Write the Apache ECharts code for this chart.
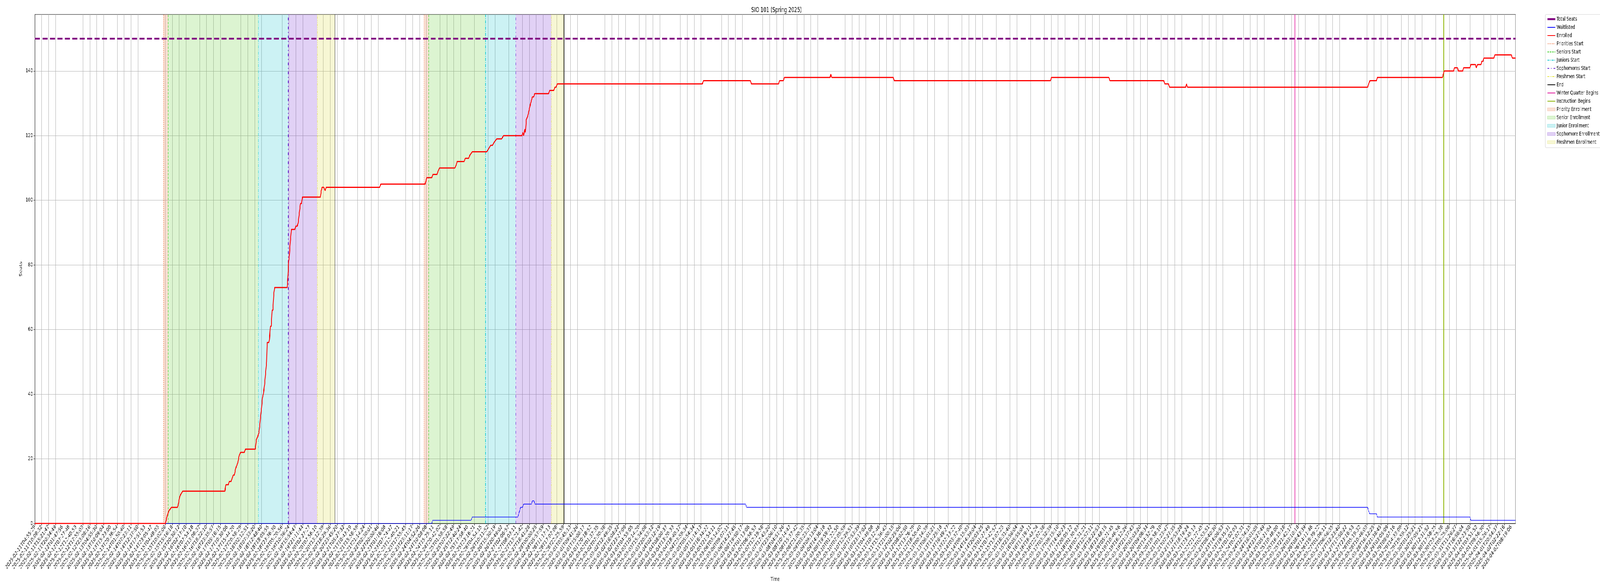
<!DOCTYPE html>
<html>
<head>
<meta charset="utf-8">
<title>SIO 101 (Spring 2025)</title>
<script src="https://cdn.jsdelivr.net/npm/echarts@6.0.0/dist/echarts.min.js"></script>
<style>
  html, body { margin: 0; padding: 0; background: #fff; overflow: hidden; }
  #chart { width: 6000px; height: 1500px; transform-origin: 0 0; }
</style>
</head>
<body>
<div id="chart"></div>
<script>
// x positions below are in "tick index" units: tick i sits at x = i
const tickLabels = [
  '2025-02-11T04:55:29', '2025-02-11T10:08:32', '2025-02-11T15:21:47', '2025-02-11T20:34:49',
  '2025-02-12T01:47:56', '2025-02-12T07:27:48', '2025-02-12T12:40:53', '2025-02-12T17:55:03',
  '2025-02-12T23:08:16', '2025-02-13T04:55:30', '2025-02-13T10:09:04', '2025-02-13T15:23:00',
  '2025-02-13T20:36:54', '2025-02-14T01:50:40', '2025-02-14T07:23:11', '2025-02-14T12:37:50',
  '2025-02-14T17:51:53', '2025-02-14T23:05:47', '2025-02-15T04:48:03', '2025-02-15T10:02:08',
  '2025-02-15T15:16:18', '2025-02-15T20:30:12', '2025-02-16T02:17:10', '2025-02-16T07:54:18',
  '2025-02-16T13:08:37', '2025-02-16T18:22:10', '2025-02-16T23:35:57', '2025-02-17T05:16:15',
  '2025-02-17T10:30:06', '2025-02-17T15:44:20', '2025-02-17T20:58:29', '2025-02-18T02:12:51',
  '2025-02-18T07:33:20', '2025-02-18T12:48:40', '2025-02-18T18:05:55', '2025-02-18T23:36:30',
  '2025-02-19T05:20:56', '2025-02-19T10:36:24', '2025-02-19T15:54:47', '2025-02-19T21:11:44',
  '2025-02-20T02:27:27', '2025-02-20T07:56:10', '2025-02-20T13:12:39', '2025-02-20T18:29:36',
  '2025-02-20T23:45:20', '2025-02-21T05:27:32', '2025-02-21T10:43:19', '2025-02-21T15:58:59',
  '2025-02-21T21:14:24', '2025-02-22T02:30:01', '2025-02-22T20:00:46', '2025-02-23T01:16:08',
  '2025-02-23T07:24:47', '2025-02-23T12:40:21', '2025-02-23T17:55:45', '2025-02-23T23:11:17',
  '2025-02-24T04:52:26', '2025-02-24T10:08:08', '2025-02-24T15:25:11', '2025-02-24T20:42:02',
  '2025-02-25T01:58:58', '2025-02-25T07:22:49', '2025-02-25T12:40:24', '2025-02-25T17:58:40',
  '2025-02-25T23:16:21', '2025-02-26T04:54:15', '2025-02-26T10:11:52', '2025-02-26T15:30:19',
  '2025-02-26T20:49:02', '2025-02-27T02:06:57', '2025-02-27T08:03:11', '2025-02-27T13:21:42',
  '2025-02-27T18:41:28', '2025-02-28T00:00:25', '2025-02-28T05:57:59', '2025-02-28T11:17:13',
  '2025-02-28T17:07:08', '2025-02-28T22:25:59', '2025-03-01T03:45:13', '2025-03-01T09:41:26',
  '2025-03-01T15:00:17', '2025-03-01T20:18:52', '2025-03-02T01:37:35', '2025-03-02T07:30:38',
  '2025-03-02T12:49:35', '2025-03-02T18:08:22', '2025-03-02T23:27:09', '2025-03-03T04:55:05',
  '2025-03-03T10:14:20', '2025-03-03T15:34:08', '2025-03-03T20:53:12', '2025-03-04T02:12:19',
  '2025-03-04T08:00:37', '2025-03-04T13:20:33', '2025-03-04T18:40:17', '2025-03-04T23:59:34',
  '2025-03-05T05:54:34', '2025-03-05T11:14:13', '2025-03-05T16:34:22', '2025-03-05T21:54:11',
  '2025-03-06T03:14:02', '2025-03-06T09:07:11', '2025-03-06T14:27:45', '2025-03-06T19:50:17',
  '2025-03-07T01:13:06', '2025-03-07T06:56:53', '2025-03-07T12:19:58', '2025-03-07T17:43:20',
  '2025-03-07T23:06:10', '2025-03-08T04:51:26', '2025-03-08T10:14:47', '2025-03-08T15:37:42',
  '2025-03-08T21:00:35', '2025-03-09T03:23:37', '2025-03-09T09:13:04', '2025-03-09T14:36:18',
  '2025-03-09T19:59:32', '2025-03-10T01:22:50', '2025-03-10T07:05:59', '2025-03-10T12:29:51',
  '2025-03-10T17:53:39', '2025-03-10T23:17:02', '2025-03-11T04:49:08', '2025-03-11T10:12:46',
  '2025-03-11T15:36:43', '2025-03-11T21:00:15', '2025-03-12T02:25:06', '2025-03-12T08:02:50',
  '2025-03-12T13:26:29', '2025-03-12T18:50:40', '2025-03-13T00:14:39', '2025-03-13T06:01:21',
  '2025-03-13T11:25:18', '2025-03-13T16:49:27', '2025-03-13T22:13:22', '2025-03-14T03:37:40',
  '2025-03-14T09:15:03', '2025-03-14T14:39:04', '2025-03-14T20:03:25', '2025-03-15T01:27:49',
  '2025-03-15T07:42:57', '2025-03-15T13:07:23', '2025-03-15T18:31:40', '2025-03-15T23:56:04',
  '2025-03-16T05:55:04', '2025-03-16T11:19:11', '2025-03-16T16:43:24', '2025-03-16T22:07:38',
  '2025-03-17T03:32:39', '2025-03-17T09:15:10', '2025-03-17T14:40:23', '2025-03-17T20:05:12',
  '2025-03-18T01:30:03', '2025-03-18T07:31:21', '2025-03-18T12:57:11', '2025-03-18T18:22:53',
  '2025-03-18T23:48:15', '2025-03-19T05:21:45', '2025-03-19T10:46:56', '2025-03-19T16:12:26',
  '2025-03-19T21:37:43', '2025-03-20T03:03:20', '2025-03-20T09:06:34', '2025-03-20T14:32:29',
  '2025-03-20T19:58:10', '2025-03-21T01:23:47', '2025-03-21T07:27:35', '2025-03-21T12:53:28',
  '2025-03-21T18:19:24', '2025-03-21T23:45:13', '2025-03-22T21:27:45', '2025-03-23T02:53:51',
  '2025-03-23T08:40:30', '2025-03-23T14:06:53', '2025-03-23T19:35:31', '2025-03-24T01:02:03',
  '2025-03-24T07:07:31', '2025-03-24T12:34:15', '2025-03-24T18:01:05', '2025-03-24T23:27:49',
  '2025-03-25T05:21:04', '2025-03-25T10:48:00', '2025-03-25T16:15:18', '2025-03-25T21:42:17',
  '2025-03-26T03:10:18', '2025-03-26T08:43:39', '2025-03-26T14:11:46', '2025-03-26T19:39:22',
  '2025-03-27T01:06:11', '2025-03-27T06:56:35', '2025-03-27T12:23:40', '2025-03-27T17:50:22',
  '2025-03-27T23:16:53', '2025-03-28T05:19:32', '2025-03-28T10:46:03', '2025-03-28T16:12:25',
  '2025-03-28T21:38:45', '2025-03-29T03:05:09', '2025-03-29T09:07:16', '2025-03-29T14:33:09',
  '2025-03-29T19:59:12', '2025-03-30T01:25:21', '2025-03-30T07:05:21', '2025-03-30T12:31:52',
  '2025-03-30T17:58:25', '2025-03-30T23:25:38', '2025-03-31T05:25:08', '2025-03-31T11:26:27',
  '2025-03-31T16:56:04', '2025-03-31T22:23:50', '2025-04-01T03:51:52', '2025-04-01T09:56:30',
  '2025-04-01T15:26:17', '2025-04-01T20:54:37', '2025-04-02T02:22:16', '2025-04-02T08:19:06'
];
const yTicks = [0, 20, 40, 60, 80, 100, 120, 140];
const xMax = 215.62;
const yMax = 157.5;
const totalSeats = 150;

const enrolledX = [
  0, 18.99, 19.12, 19.21, 19.37, 19.54, 19.88, 20.76, 20.89, 21.06, 21.23, 21.52,
  27.67, 27.80, 28.17, 28.30, 28.55, 28.72, 28.89, 29.06, 29.23, 29.40, 29.57, 29.74, 29.95,
  30.49, 30.66, 32.09, 32.26, 32.47, 32.60, 32.73, 32.85, 33.02, 33.15, 33.27, 33.44, 33.61,
  33.74, 33.82, 34.08, 34.16, 34.29, 34.41, 34.54, 34.66, 34.79, 34.92, 36.73, 36.85, 36.94,
  37.06, 37.19, 37.36, 37.86, 37.99, 38.20, 38.33, 38.50, 38.67, 38.83, 38.96, 41.57, 41.70,
  41.82, 42.08, 42.25, 42.41, 50.21, 50.37, 56.82, 57.07, 57.79, 57.96, 58.55, 58.71, 58.92,
  61.16, 61.37, 61.49, 62.50, 62.67, 63.18, 63.35, 63.69, 65.79, 66.09, 66.38, 66.63, 66.89,
  67.26, 67.98, 68.23, 70.93, 71.06, 71.18, 71.35, 71.43, 71.56, 71.77, 72.19, 72.44, 72.65,
  72.78, 74.80, 74.97, 75.56, 75.73, 75.90, 76.07, 97.20, 97.35, 104.20, 104.35, 108.30,
  108.45, 109.00, 109.15, 115.80, 115.90, 116.05, 125.00, 125.15, 147.90, 148.05, 156.40,
  156.55, 164.40, 164.55, 165.10, 165.25, 167.60, 167.70, 167.85, 194.10, 194.25, 194.43,
  195.38, 195.50, 204.98, 205.10, 205.25, 206.61, 206.73, 207.18, 207.30, 207.95, 208.07,
  208.99, 209.11, 209.79, 209.91, 210.09, 210.60, 210.71, 210.89, 211.01, 212.47, 212.62,
  215.02, 215.17, 215.62
];
const enrolledY = [
  0, 0, 1, 2, 3, 4, 5, 5, 6, 8, 9, 10,
  10, 12, 12, 13, 13, 14, 15, 15, 17, 18, 19, 21, 22,
  22, 23, 23, 26, 27, 28, 30, 33, 36, 39, 40, 43, 47,
  50, 56, 56, 57, 61, 61, 66, 66, 71, 73, 73, 77, 81,
  83, 87, 91, 91, 92, 92, 93, 96, 99, 99, 101, 101, 103,
  104, 104, 103, 104, 104, 105, 105, 107, 107, 108, 108, 109, 110,
  110, 111, 112, 112, 113, 113, 114, 115, 115, 116, 117, 117, 118,
  119, 119, 120, 120, 121, 120, 122, 121, 125, 126, 130, 132, 132,
  133, 133, 134, 134, 135, 135, 136, 136, 137, 137, 136, 136,
  137, 137, 138, 138, 139, 138, 138, 137, 137, 138, 138,
  137, 137, 136, 136, 135, 135, 136, 135, 135, 136, 137,
  137, 138, 138, 139, 140, 140, 141, 141, 140, 140, 141,
  141, 142, 142, 141, 142, 142, 143, 143, 144, 144, 145,
  145, 144, 144
];

const waitlistX = [
  0, 57.79, 57.92, 63.52, 63.69, 70.34, 70.72, 71.01, 71.18, 72.31, 72.44, 72.69, 72.82,
  103.50, 103.65, 194.10, 194.22, 194.40, 195.38, 195.50, 208.99, 209.11, 215.62
];
const waitlistY = [
  0, 0, 1, 1, 2, 2, 5, 5, 6, 6, 7, 7, 6,
  6, 5, 5, 4, 3, 3, 2, 2, 1, 1
];

const prioritiesStart = [18.74, 56.65];
const seniorsStart = [19.42, 57.37];
const juniorsStart = [32.52, 65.62];
const sophomoresStart = [36.90, 70.00];
const freshmenStart = [41.10, 75.22];
const enrollmentEnd = [43.68, 77.04];
const winterQuarterBegins = [183.49];
const instructionBegins = [205.19];

const font = 'DejaVu Sans';
const tickIdx = tickLabels.map((_, i) => i);

function vline(name, xs, color, type, width) {
  return {
    name: name,
    type: 'line',
    data: [],
    symbol: 'none',
    color: color,
    lineStyle: { color: color, type: type, width: width },
    zlevel: 1,
    z: 3,
    markLine: {
      silent: true,
      symbol: ['none', 'none'],
      label: { show: false },
      lineStyle: { color: color, type: type, width: width },
      data: xs.map(x => ({ xAxis: x }))
    }
  };
}

function band(name, starts, ends, color) {
  return {
    name: name,
    type: 'line',
    data: [],
    symbol: 'none',
    color: color,
    z: 1,
    markArea: {
      silent: true,
      itemStyle: { color: color },
      data: starts.map((s, i) => [{ xAxis: s }, { xAxis: ends[i] }])
    }
  };
}

// legend entry for a line series: keep the line, hide the default marker dot
function lineEntry(name, extra) {
  return Object.assign({ name: name, itemStyle: { opacity: 0 } }, extra || {});
}

function areaEntry(name, color, border) {
  return { name: name, icon: 'rect', itemStyle: { color: color, borderColor: border, borderWidth: 1 } };
}

// the browser window may be narrower than the 6000x1500 design; squeeze to fit
const el = document.getElementById('chart');
const vw = window.innerWidth, vh = window.innerHeight;
if (vw && vh && (vw !== 6000 || vh !== 1500)) {
  el.style.transform = 'scale(' + (vw / 6000) + ',' + (vh / 1500) + ')';
}

const chart = echarts.init(el, null, { renderer: 'canvas' });

const bandColors = {
  priority: 'rgba(235,125,75,0.24)',
  senior: 'rgba(90,205,40,0.21)',
  junior: 'rgba(0,190,200,0.2)',
  sophomore: 'rgba(115,40,210,0.21)',
  freshmen: 'rgba(215,215,40,0.2)'
};

const option = {
  animation: false,
  backgroundColor: '#ffffff',
  title: {
    text: 'SIO 101 (Spring 2025)',
    left: 2907,
    top: 13,
    textAlign: 'center',
    textStyle: { fontFamily: font, fontSize: 17, fontWeight: 'normal', color: '#000' }
  },
  legend: {
    orient: 'vertical',
    left: 5795,
    top: 37,
    padding: [5, 8, 7, 5],
    itemWidth: 30,
    itemHeight: 8,
    itemGap: 7,
    borderColor: '#d0d0d0',
    borderWidth: 1,
    borderRadius: 3,
    backgroundColor: 'rgba(255,255,255,0.8)',
    textStyle: { fontFamily: font, fontSize: 14, color: '#000', lineHeight: 14 },
    data: [
      lineEntry('Total Seats', { lineStyle: { type: 'solid', width: 5 } }),
      lineEntry('Waitlisted'),
      lineEntry('Enrolled'),
      lineEntry('Priorities Start'),
      lineEntry('Seniors Start'),
      lineEntry('Juniors Start'),
      lineEntry('Sophomores Start'),
      lineEntry('Freshmen Start'),
      lineEntry('End'),
      lineEntry('Winter Quarter Begins'),
      lineEntry('Instruction Begins'),
      areaEntry('Priority Enrollment', bandColors.priority, 'rgba(235,125,75,0.3)'),
      areaEntry('Senior Enrollment', bandColors.senior, 'rgba(90,205,40,0.3)'),
      areaEntry('Junior Enrollment', bandColors.junior, 'rgba(0,190,200,0.3)'),
      areaEntry('Sophomore Enrollment', bandColors.sophomore, 'rgba(115,40,210,0.3)'),
      areaEntry('Freshmen Enrollment', bandColors.freshmen, 'rgba(215,215,40,0.3)')
    ]
  },
  grid: {
    left: 131,
    right: 317,
    top: 37,
    bottom: 160,
    show: true,
    borderColor: '#000',
    borderWidth: 1,
    containLabel: false
  },
  xAxis: {
    type: 'value',
    min: 0,
    max: xMax,
    interval: 1,
    name: 'Time',
    nameLocation: 'middle',
    nameGap: 136,
    nameTextStyle: { fontFamily: font, fontSize: 14, color: '#000' },
    axisLine: { show: true, onZero: false, lineStyle: { color: '#000', width: 1 } },
    axisTick: { show: true, length: 5, customValues: tickIdx, lineStyle: { color: '#000' } },
    axisLabel: {
      rotate: 45,
      margin: 7,
      fontFamily: font,
      fontSize: 14,
      color: '#000',
      customValues: tickIdx,
      formatter: v => tickLabels[Math.round(v)] || ''
    },
    splitLine: { show: true, lineStyle: { color: '#b0b0b0', width: 1 } }
  },
  yAxis: {
    type: 'value',
    min: 0,
    max: yMax,
    interval: 20,
    name: 'Seats',
    nameLocation: 'middle',
    nameGap: 46,
    nameTextStyle: { fontFamily: font, fontSize: 14, color: '#000' },
    axisLine: { show: true, onZero: false, lineStyle: { color: '#000', width: 1 } },
    axisTick: { show: true, length: 5, customValues: yTicks, lineStyle: { color: '#000' } },
    axisLabel: {
      margin: 8,
      fontFamily: font,
      fontSize: 14,
      color: '#000',
      customValues: yTicks
    },
    splitLine: { show: true, lineStyle: { color: '#b0b0b0', width: 1 } }
  },
  series: [
    band('Priority Enrollment', prioritiesStart, seniorsStart, bandColors.priority),
    band('Senior Enrollment', seniorsStart, juniorsStart, bandColors.senior),
    band('Junior Enrollment', juniorsStart, sophomoresStart, bandColors.junior),
    band('Sophomore Enrollment', sophomoresStart, freshmenStart, bandColors.sophomore),
    band('Freshmen Enrollment', freshmenStart, enrollmentEnd, bandColors.freshmen),
    vline('Priorities Start', prioritiesStart, '#f06a32', [2, 3], 1.5),
    vline('Seniors Start', seniorsStart, '#33cc1a', [6, 3], 2),
    vline('Juniors Start', juniorsStart, '#00c6d0', [8, 3, 2, 3], 1.5),
    vline('Sophomores Start', sophomoresStart, '#6a22d6', [7, 7, 2, 7], 2),
    vline('Freshmen Start', freshmenStart, '#e2e22a', [6, 3, 2, 3, 2, 3], 1.5),
    vline('End', enrollmentEnd, '#000000', 'solid', 1.5),
    vline('Winter Quarter Begins', winterQuarterBegins, '#e0169c', 'solid', 1.5),
    vline('Instruction Begins', instructionBegins, '#8cb400', 'solid', 3),
    {
      name: 'Total Seats',
      type: 'line',
      data: [[0, totalSeats], [xMax, totalSeats]],
      symbol: 'none',
      color: '#800080',
      lineStyle: { color: '#800080', width: 4.5, type: [19, 9] },
      zlevel: 1,
      z: 4
    },
    {
      name: 'Waitlisted',
      type: 'line',
      data: waitlistX.map((x, i) => [x, waitlistY[i]]),
      symbol: 'none',
      color: '#0000ff',
      lineStyle: { color: '#0000ff', width: 1.6 },
      zlevel: 1,
      z: 5
    },
    {
      name: 'Enrolled',
      type: 'line',
      data: enrolledX.map((x, i) => [x, enrolledY[i]]),
      symbol: 'none',
      color: '#ff0000',
      lineStyle: { color: '#ff0000', width: 3 },
      zlevel: 1,
      z: 6
    }
  ]
};

chart.setOption(option);
</script>
</body>
</html>
